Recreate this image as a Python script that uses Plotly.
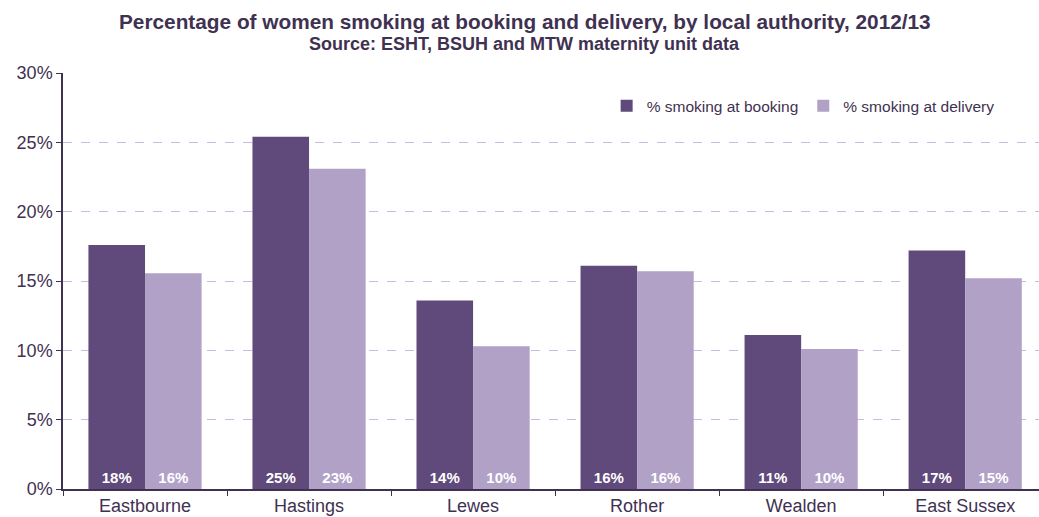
import plotly.graph_objects as go

# Local authorities and smoking rates (%)
authorities = ["Eastbourne", "Hastings", "Lewes", "Rother", "Wealden", "East Sussex"]
smoking_booking = [17.6, 25.4, 13.6, 16.1, 11.1, 17.2]
smoking_delivery = [15.55, 23.1, 10.3, 15.7, 10.1, 15.2]
y_ticks = [0, 5, 10, 15, 20, 25, 30]
y_tick_labels = ["0%", "5%", "10%", "15%", "20%", "25%", "30%"]

TEXT = "#3f3151"
FONT = "Liberation Sans, Arial, sans-serif"

fig = go.Figure()
for name, values, colour in [
    ("% smoking at booking", smoking_booking, "#5f4a7b"),
    ("% smoking at delivery", smoking_delivery, "#b2a1c7"),
]:
    fig.add_trace(go.Bar(
        x=authorities, y=values, name=name,
        marker=dict(color=colour, line=dict(width=0)),
        texttemplate="%{y:.0f}%", textposition="inside", insidetextanchor="start",
        textfont=dict(color="white", size=15, family=FONT, weight="bold"),
        textangle=0,
    ))

# Two-line heading
fig.add_annotation(
    text="<b>Percentage of women smoking at booking and delivery, by local authority, 2012/13</b>",
    xref="paper", yref="paper", x=0.473, y=1.125, xanchor="center", yanchor="middle",
    showarrow=False, font=dict(size=20.8, color=TEXT, family=FONT),
)
fig.add_annotation(
    text="<b>Source: ESHT, BSUH and MTW maternity unit data</b>",
    xref="paper", yref="paper", x=0.473, y=1.07, xanchor="center", yanchor="middle",
    showarrow=False, font=dict(size=18, color=TEXT, family=FONT),
)

fig.update_layout(
    width=1039, height=517,
    margin=dict(l=63, r=0, t=73, b=28),
    paper_bgcolor="white", plot_bgcolor="white",
    font=dict(family=FONT, color=TEXT),
    barmode="group", bargap=0.31, bargroupgap=0,
    legend=dict(
        orientation="h", x=0.557, xanchor="left", y=0.92, yanchor="middle",
        font=dict(size=15.5, color=TEXT, family=FONT),
        itemwidth=30, bgcolor="rgba(0,0,0,0)",
        traceorder="normal",
    ),
    showlegend=True,
)
fig.update_xaxes(
    range=[-0.5, 5.45], showline=True, linecolor=TEXT, linewidth=1.5,
    ticks="outside", tickson="boundaries", ticklen=5, tickcolor=TEXT,
    tickfont=dict(size=18, color=TEXT, family=FONT), showgrid=False,
)
fig.update_yaxes(
    range=[0, 30], tickvals=y_ticks, ticktext=y_tick_labels,
    showline=True, linecolor=TEXT, linewidth=1.5,
    ticks="outside", ticklen=5, tickcolor=TEXT,
    tickfont=dict(size=18, color=TEXT, family=FONT),
    showgrid=True, gridcolor="#c9bbe0", griddash="dash", gridwidth=1,
    zeroline=False,
)

fig.write_html("out.html")
